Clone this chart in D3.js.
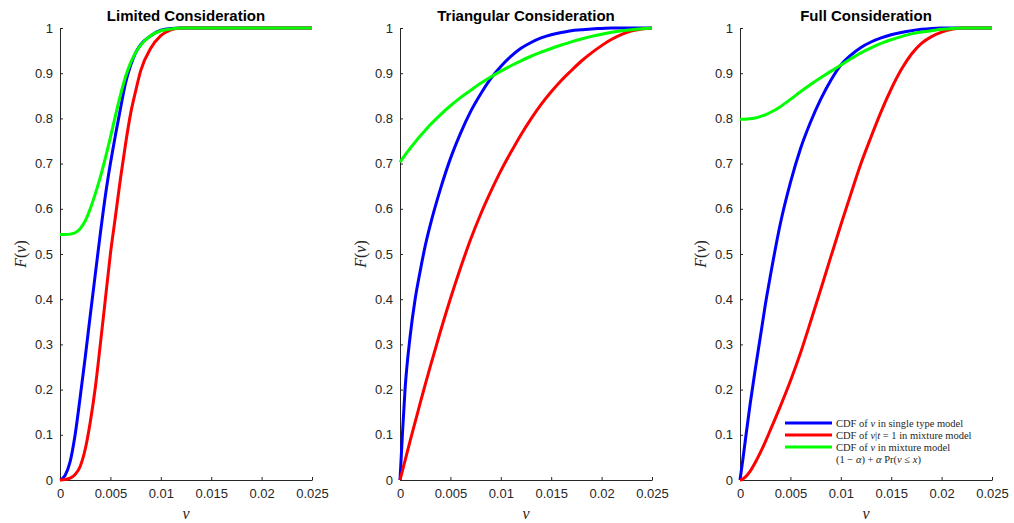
<!DOCTYPE html>
<html>
<head>
<meta charset="utf-8">
<script src="https://cdn.jsdelivr.net/npm/d3@7"></script>
<style>
  body { margin: 0; background: #fff; }
  svg { display: block; }
  .tick-label { font-family: "Liberation Sans", Arial, sans-serif; font-size: 13px; fill: #262626; }
  .title { font-family: "Liberation Sans", Arial, sans-serif; font-size: 15px; font-weight: bold; fill: #000; }
  .math { font-family: "Liberation Serif", "DejaVu Serif", serif; fill: #262626; }
</style>
</head>
<body>
<div id="chart"></div>
<script>
// values
var panelTitles = ['Limited Consideration', 'Triangular Consideration', 'Full Consideration'];
var xTicks = [0, 0.005, 0.01, 0.015, 0.02, 0.025];
var xTickLabels = ['0', '0.005', '0.01', '0.015', '0.02', '0.025'];
var yTicks = [0, 0.1, 0.2, 0.3, 0.4, 0.5, 0.6, 0.7, 0.8, 0.9, 1];
var yTickLabels = ['0', '0.1', '0.2', '0.3', '0.4', '0.5', '0.6', '0.7', '0.8', '0.9', '1'];

var nuLimited = [0, 0.0005, 0.001, 0.0015, 0.002, 0.0025, 0.003, 0.0035, 0.004, 0.0045, 0.005,
  0.0055, 0.006, 0.0065, 0.007, 0.0075, 0.008, 0.009, 0.010, 0.011, 0.012, 0.014, 0.025];
var singleLimited = [0, 0.01, 0.04, 0.1, 0.183, 0.271, 0.364, 0.455, 0.545, 0.629, 0.7,
  0.763, 0.822, 0.878, 0.917, 0.945, 0.963, 0.983, 0.995, 0.999, 1, 1, 1];
var typeOneLimited = [0, 0.001, 0.004, 0.012, 0.03, 0.068, 0.128, 0.204, 0.3, 0.4, 0.5,
  0.583, 0.667, 0.743, 0.81, 0.86, 0.905, 0.955, 0.983, 0.996, 1, 1, 1];
var mixtureLimited = [0.543, 0.543, 0.544, 0.547, 0.556, 0.573, 0.6, 0.633, 0.67, 0.712, 0.758,
  0.806, 0.852, 0.892, 0.923, 0.945, 0.962, 0.983, 0.994, 0.998, 1, 1, 1];

var nuWide = [0, 0.00025, 0.0005, 0.001, 0.0015, 0.002, 0.0025, 0.003, 0.004, 0.005, 0.006,
  0.007, 0.008, 0.009, 0.010, 0.011, 0.012, 0.013, 0.014, 0.015, 0.016, 0.017, 0.018,
  0.019, 0.020, 0.021, 0.022, 0.023, 0.024, 0.025];

var singleTriangular = [0, 0.105, 0.2, 0.317, 0.4, 0.462, 0.518, 0.564, 0.643, 0.711, 0.767,
  0.815, 0.854, 0.888, 0.915, 0.937, 0.955, 0.968, 0.978, 0.985, 0.99, 0.994, 0.996,
  0.998, 0.999, 1, 1, 1, 1, 1];
var typeOneTriangular = [0, 0.0215, 0.043, 0.086, 0.128, 0.17, 0.211, 0.251, 0.328, 0.401, 0.469,
  0.532, 0.588, 0.638, 0.684, 0.725, 0.764, 0.799, 0.831, 0.859, 0.884, 0.906, 0.927,
  0.945, 0.961, 0.975, 0.986, 0.994, 0.998, 1];
var mixtureTriangular = [0.703, 0.711, 0.719, 0.7335, 0.7475, 0.761, 0.7735, 0.786, 0.808, 0.828, 0.846,
  0.862, 0.8775, 0.8915, 0.9045, 0.9165, 0.9275, 0.9375, 0.9465, 0.9547, 0.9623, 0.9694, 0.9758,
  0.9814, 0.9863, 0.9904, 0.9937, 0.9963, 0.9983, 1];

var singleFull = [0, 0.04, 0.083, 0.167, 0.243, 0.314, 0.386, 0.45, 0.567, 0.658, 0.733,
  0.792, 0.842, 0.884, 0.918, 0.94, 0.957, 0.969, 0.978, 0.985, 0.99, 0.994, 0.997,
  0.999, 1, 1, 1, 1, 1, 1];
var typeOneFull = [0, 0.0015, 0.006, 0.019, 0.038, 0.06, 0.084, 0.11, 0.163, 0.219, 0.281,
  0.35, 0.421, 0.493, 0.564, 0.633, 0.7, 0.759, 0.815, 0.865, 0.908, 0.942, 0.966,
  0.981, 0.991, 0.997, 1, 1, 1, 1];
var mixtureFull = [0.798, 0.798, 0.798, 0.799, 0.801, 0.804, 0.808, 0.813, 0.826, 0.842, 0.859,
  0.875, 0.89, 0.904, 0.918, 0.932, 0.945, 0.956, 0.966, 0.974, 0.981, 0.987, 0.991,
  0.994, 0.997, 0.999, 1, 1, 1, 1];

var panels = [
  {title: panelTitles[0], nu: nuLimited, series: [singleLimited, typeOneLimited, mixtureLimited]},
  {title: panelTitles[1], nu: nuWide, series: [singleTriangular, typeOneTriangular, mixtureTriangular]},
  {title: panelTitles[2], nu: nuWide, series: [singleFull, typeOneFull, mixtureFull]}
];
var colors = ['#0000ff', '#ff0000', '#00ff00'];

var width = 1014, height = 523;
var lefts = [60, 400, 740];
var plotW = 252;
var plotTop = 28, plotBottom = 480;

var svg = d3.select('#chart').append('svg')
  .attr('width', width)
  .attr('height', height);

var y = d3.scaleLinear().domain([0, 1]).range([plotBottom, plotTop]);

panels.forEach(function(p, pi) {
  var x = d3.scaleLinear().domain([0, 0.025]).range([lefts[pi], lefts[pi] + plotW]);
  var g = svg.append('g');

  // axes, matlab style: ticks inside, box off
  var xAxis = d3.axisBottom(x).tickValues(xTicks)
    .tickFormat(function(d, i) { return xTickLabels[i]; })
    .tickSizeInner(-3).tickSizeOuter(0).tickPadding(9);
  var yAxis = d3.axisLeft(y).tickValues(yTicks)
    .tickFormat(function(d, i) { return yTickLabels[i]; })
    .tickSizeInner(-3).tickSizeOuter(0).tickPadding(7);

  var gx = g.append('g').attr('transform', 'translate(0,' + plotBottom + ')').call(xAxis);
  var gy = g.append('g').attr('transform', 'translate(' + lefts[pi] + ',0)').call(yAxis);
  [gx, gy].forEach(function(a) {
    a.select('.domain').attr('stroke', '#262626');
    a.selectAll('.tick line').attr('stroke', '#262626');
    a.selectAll('.tick text').attr('class', 'tick-label').attr('font-size', null).attr('font-family', null);
  });
  gx.selectAll('.tick text').attr('dy', '0.71em');

  var line = d3.line()
    .x(function(d, i) { return x(p.nu[i]); })
    .y(function(d) { return y(d); })
    .curve(d3.curveMonotoneX);

  p.series.forEach(function(s, si) {
    g.append('path')
      .datum(s)
      .attr('fill', 'none')
      .attr('stroke', colors[si])
      .attr('stroke-width', 3)
      .attr('stroke-linejoin', 'round')
      .attr('d', line);
  });

  g.append('text')
    .attr('class', 'title')
    .attr('text-anchor', 'middle')
    .attr('x', x(0.0125))
    .attr('y', 21)
    .text(p.title);

  // x label
  g.append('text')
    .attr('class', 'math')
    .attr('font-size', 16)
    .attr('font-style', 'italic')
    .attr('text-anchor', 'middle')
    .attr('x', x(0.0125))
    .attr('y', 519)
    .text('ν');

  // y label
  var yl = g.append('text')
    .attr('class', 'math')
    .attr('font-size', 16)
    .attr('text-anchor', 'middle')
    .attr('transform', 'translate(' + (lefts[pi] - 34) + ',' + y(0.5) + ') rotate(-90)');
  yl.append('tspan').attr('font-style', 'italic').text('F');
  yl.append('tspan').text('(');
  yl.append('tspan').attr('font-style', 'italic').text('ν');
  yl.append('tspan').text(')');
});

// legend in the last panel
var lg = svg.append('g').attr('class', 'legend');
var legendRows = [
  [['CDF of ', false], ['ν', true], [' in single type model', false]],
  [['CDF of ', false], ['ν', true], ['|', false], ['t', true], [' = 1 in mixture model', false]],
  [['CDF of ', false], ['ν', true], [' in mixture model', false]],
  [['(1 − ', false], ['α', true], [') + ', false], ['α', true], [' Pr(', false], ['ν', true], [' ≤ ', false], ['x', true], [')', false]]
];
legendRows.forEach(function(row, i) {
  var ry = 423 + i * 12;
  if (i < 3) {
    lg.append('line')
      .attr('x1', 785).attr('x2', 832)
      .attr('y1', ry).attr('y2', ry)
      .attr('stroke', colors[i])
      .attr('stroke-width', 3);
  }
  var t = lg.append('text')
    .attr('class', 'math')
    .attr('font-size', 10.5)
    .attr('x', 836)
    .attr('y', ry + 3.5);
  row.forEach(function(part) {
    t.append('tspan')
      .attr('font-style', part[1] ? 'italic' : null)
      .text(part[0]);
  });
});
</script>
</body>
</html>
